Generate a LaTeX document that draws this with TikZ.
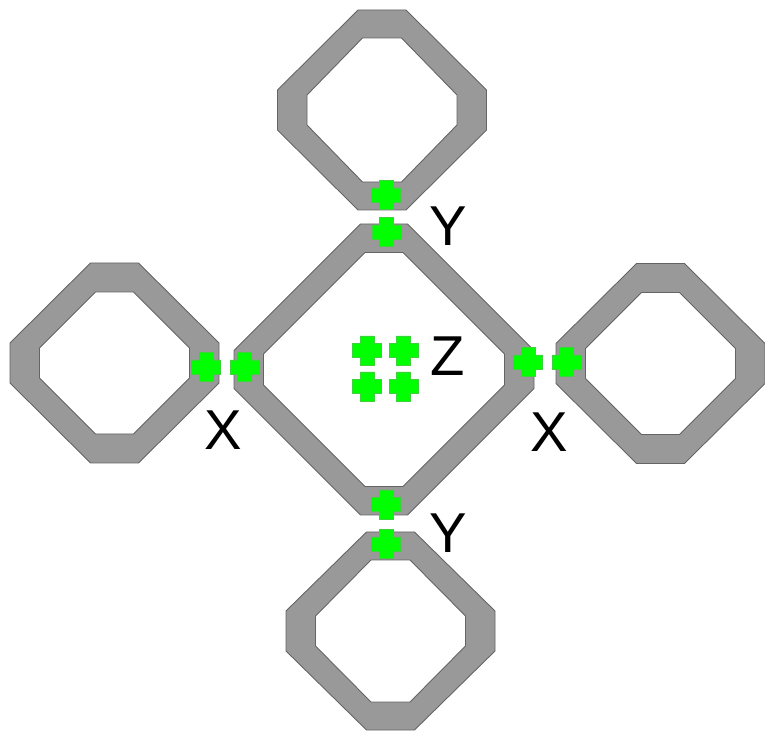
\documentclass[tikz,border=0pt]{standalone}
\usepackage{fontspec}
\setmainfont{Liberation Sans}
\definecolor{ringcolor}{RGB}{153, 153, 153}
\definecolor{edgecolor}{RGB}{100, 100, 100}
\definecolor{padcolor}{RGB}{0, 255, 0}
\definecolor{padedge}{RGB}{60, 210, 60}

\begin{document}
\begin{tikzpicture}[x=0.02cm, y=-0.02cm,
    ring/.style={fill=ringcolor, draw=edgecolor, line width=0.5pt, even odd rule},
    pad/.style={fill=padcolor, draw=padedge, line width=0.4pt},
    lbl/.style={inner sep=0pt, font=\fontsize{32}{36}\selectfont}]

    \useasboundingbox (0,0) rectangle (765,733);

    % ==========================================
    % --- Rings (outer octagon minus inner octagon) ---
    % ==========================================
    \foreach \cx/\cy/\a/\b/\h/\v/\ai/\bi/\hi/\vi in {
        382/110/104.5/100/24/20/75/72/19.5/15,       % top
        114.5/363/104.5/100/24/20/75/71/19/15,       % left
        660.5/363.5/104.5/100/24/20/75/71/19/15,     % right
        390.5/631/104.5/99/24/20/75/71/19.5/15,      % bottom
        384/369.5/150/145.5/23.5/19/120.5/117/19/15.5} % centre
    {
        \begin{scope}[shift={(\cx,\cy)}]
            \path[ring]
                (-\h,-\b) -- (\h,-\b) -- (\a,-\v) -- (\a,\v) -- (\h,\b) -- (-\h,\b) -- (-\a,\v) -- (-\a,-\v) -- cycle
                (-\hi,-\bi) -- (\hi,-\bi) -- (\ai,-\vi) -- (\ai,\vi) -- (\hi,\bi) -- (-\hi,\bi) -- (-\ai,\vi) -- (-\ai,-\vi) -- cycle;
        \end{scope}
    }

    % ==========================================
    % --- Contact pads (green crosses) ---
    % ==========================================
    \foreach \x/\y in {386/195, 386.5/232, 206/367, 244.7/367, 528/362, 566.7/362,
                       386/504.5, 386/544, 367/350.5, 403.5/350.5, 367/386.5, 403.5/386.5}
        \path[pad, shift={(\x,\y)}]
            (-7,-14.5) -- (7,-14.5) -- (7,-7) -- (14.5,-7) -- (14.5,7) -- (7,7)
            -- (7,14.5) -- (-7,14.5) -- (-7,7) -- (-14.5,7) -- (-14.5,-7) -- (-7,-7) -- cycle;

    % Labels
    \node[lbl] (ytop) at (448,226) {Y};
    \node[lbl] (zmid) at (448,356) {Z};
    \node[lbl] (xleft) at (223,430) {X};
    \node[lbl] (xright) at (549,432) {X};
    \node[lbl] (ybot) at (448,533) {Y};

\end{tikzpicture}
\end{document}
